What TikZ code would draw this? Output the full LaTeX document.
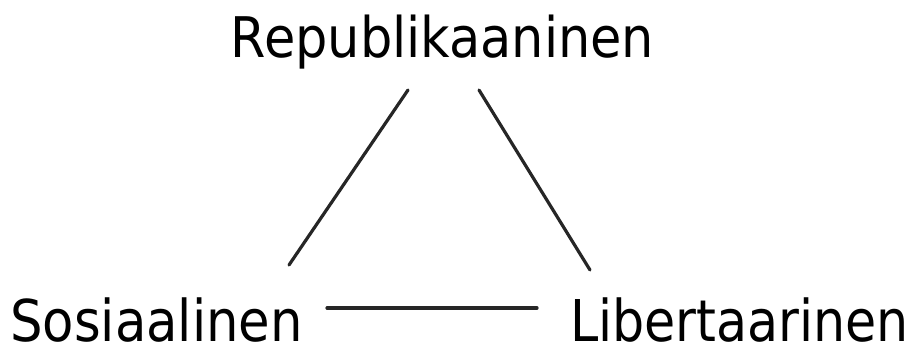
\documentclass[tikz,border=0pt]{standalone}
\usepackage{fontspec}
\setmainfont{DejaVu Sans}
\begin{document}
\begin{tikzpicture}[x=1pt,y=-1pt,
  lbl/.style={inner sep=0pt, anchor=base, text=black},
  link/.style={line width=3.2pt, draw=black!85, line cap=round}]
\useasboundingbox (0,0) rectangle (912,342);
\node[lbl, xscale=0.91, font=\fontsize{56}{60}\selectfont] (rep) at (442.5,58) {Republikaaninen};
\node[lbl, xscale=0.89, font=\fontsize{57.6}{60}\selectfont] (sos) at (156.5,341) {Sosiaalinen};
\node[lbl, xscale=0.88, font=\fontsize{57.6}{60}\selectfont] (lib) at (739.5,341) {Libertaarinen};
\coordinate (rl) at (408,90);
\coordinate (sl) at (289,265);
\coordinate (rr) at (479,90);
\coordinate (lr) at (590,270);
\coordinate (sb) at (327,308);
\coordinate (lb) at (537,308);
\draw[link] (rl) -- (sl);
\draw[link] (rr) -- (lr);
\draw[link] (sb) -- (lb);
\end{tikzpicture}
\end{document}
